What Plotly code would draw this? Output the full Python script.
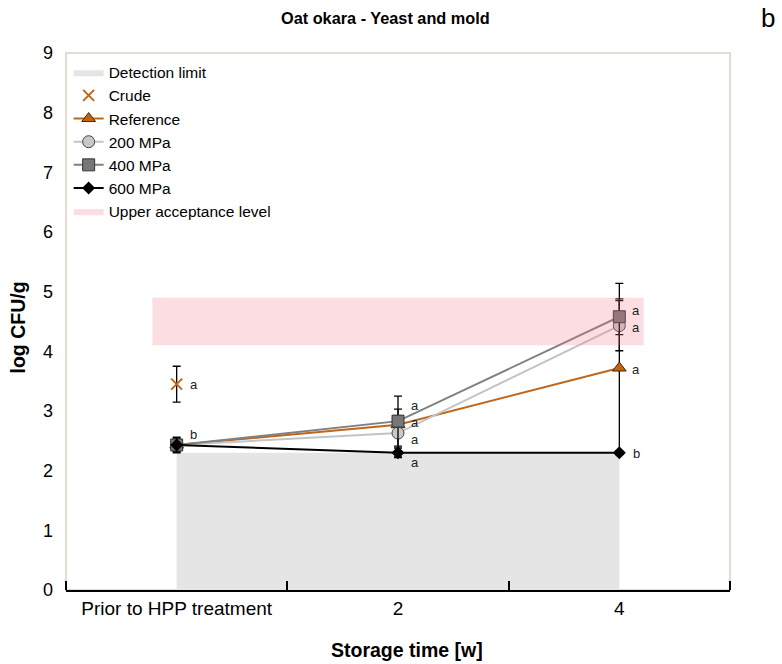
import plotly.graph_objects as go

# ---------------- data ----------------
categories = ["Prior to HPP treatment", "2", "4"]
x_pos = [0, 1, 2]

crude_y = [3.45]
crude_err = [0.30]

ref_y = [2.43, 2.77, 3.72]
ref_err = [0.10, 0.15, 1.42]

mpa200_y = [2.43, 2.63, 4.43]
mpa200_err = [0.10, 0.40, 0.42]

mpa400_y = [2.43, 2.83, 4.58]
mpa400_err = [0.10, 0.42, 0.30]

mpa600_y = [2.43, 2.30, 2.30]
mpa600_err = [0.13, 0.08, 0.03]

detection_x = [0, 2]
detection_level = 2.3

upper_x = [-0.11, 2.11]
upper_low = 4.1
upper_high = 4.9

# significance letters
letters_x = [0, 0, 1, 1, 1, 1, 2, 2, 2, 2]
letters_y = [2.61, 3.44, 3.09, 2.80, 2.52, 2.14, 4.68, 4.40, 3.70, 2.28]
letters_t = ["b", "a", "a", "a", "a", "a", "a", "a", "a", "b"]

y_ticks = [0, 1, 2, 3, 4, 5, 6, 7, 8, 9]

FONT = "Liberation Sans, Arial, sans-serif"
ORANGE = "#c0661a"

fig = go.Figure()

# detection limit area
fig.add_trace(go.Scatter(
    x=[detection_x[0], detection_x[1], detection_x[1], detection_x[0], detection_x[0]],
    y=[0, 0, detection_level, detection_level, 0],
    fill="toself", fillcolor="#e5e5e5", mode="lines",
    line=dict(width=0, color="#e5e5e5"), name="Detection limit", hoverinfo="skip"))

err_style = dict(type="data", visible=True, color="black", thickness=1.3, width=4)

fig.add_trace(go.Scatter(
    x=[x_pos[0]], y=crude_y, mode="markers", name="Crude",
    marker=dict(symbol="x-thin", size=11, line=dict(width=2, color=ORANGE), color=ORANGE),
    error_y=dict(array=crude_err, **err_style)))

fig.add_trace(go.Scatter(
    x=x_pos, y=ref_y, mode="lines+markers", name="Reference",
    line=dict(color=ORANGE, width=2),
    marker=dict(symbol="triangle-up", size=12, color="#c0650f", line=dict(width=1, color="#4a2a00")),
    error_y=dict(array=ref_err, **err_style)))

fig.add_trace(go.Scatter(
    x=x_pos, y=mpa200_y, mode="lines+markers", name="200 MPa",
    line=dict(color="#c4c4c4", width=2),
    marker=dict(symbol="circle", size=12, color="#c8c8c8", line=dict(width=1, color="#444444")),
    error_y=dict(array=mpa200_err, **err_style)))

fig.add_trace(go.Scatter(
    x=x_pos, y=mpa400_y, mode="lines+markers", name="400 MPa",
    line=dict(color="#808080", width=2),
    marker=dict(symbol="square", size=12, color="#777777", line=dict(width=1, color="#333333")),
    error_y=dict(array=mpa400_err, **err_style)))

fig.add_trace(go.Scatter(
    x=x_pos, y=mpa600_y, mode="lines+markers", name="600 MPa",
    line=dict(color="black", width=2),
    marker=dict(symbol="diamond", size=10, color="black"),
    error_y=dict(array=mpa600_err, **err_style)))

# upper acceptance band (drawn on top, translucent)
fig.add_trace(go.Scatter(
    x=[upper_x[0], upper_x[1], upper_x[1], upper_x[0], upper_x[0]],
    y=[upper_low, upper_low, upper_high, upper_high, upper_low],
    fill="toself", fillcolor="rgba(245,120,140,0.25)", mode="lines",
    line=dict(width=0, color="rgba(245,120,140,0.25)"),
    name="Upper acceptance level", hoverinfo="skip"))

for lx, ly, lt in zip(letters_x, letters_y, letters_t):
    fig.add_annotation(x=lx, y=ly, text=lt, showarrow=False, xanchor="center",
                       yanchor="middle", xshift=17,
                       font=dict(size=13, color="#222", family=FONT))

# titles
fig.add_annotation(text="<b>Oat okara - Yeast and mold</b>", xref="paper", yref="paper",
                   x=0.5, y=1, xshift=-13, yshift=35, xanchor="center", yanchor="middle",
                   showarrow=False, font=dict(size=16.3, color="black", family=FONT))
fig.add_annotation(text="b", xref="paper", yref="paper", x=1, y=1, xshift=38, yshift=35,
                   xanchor="center", yanchor="middle",
                   showarrow=False, font=dict(size=26, color="black", family=FONT))
fig.add_annotation(text="<b>Storage time [w]</b>", xref="paper", yref="paper",
                   x=0.5, y=0, xshift=9, yshift=-60, xanchor="center", yanchor="middle",
                   showarrow=False, font=dict(size=19.5, color="black", family=FONT))
fig.add_annotation(text="<b>log CFU/g</b>", xref="paper", yref="paper",
                   x=0, y=0.5, xshift=-49, yshift=-6, xanchor="center", yanchor="middle",
                   textangle=-90, showarrow=False,
                   font=dict(size=19.5, color="black", family=FONT))

# plot frame
fig.add_shape(type="rect", xref="paper", yref="paper", x0=0, y0=0, x1=1, y1=1,
              line=dict(color="#e2ddd0", width=2), layer="below")

fig.update_layout(
    width=782, height=664,
    margin=dict(l=66, r=52, t=53, b=74),
    paper_bgcolor="white", plot_bgcolor="white",
    font=dict(family=FONT, color="black"),
    showlegend=True,
    legend=dict(x=0.004, y=0.995, xanchor="left", yanchor="top",
                bgcolor="rgba(0,0,0,0)", font=dict(size=15.5, family=FONT),
                itemwidth=30, tracegroupgap=0),
    xaxis=dict(range=[-0.5, 2.5], tickvals=x_pos, ticktext=categories,
               ticks="", showgrid=False, zeroline=False,
               showline=True, linecolor="black", linewidth=1.5,
               tickfont=dict(size=19, family=FONT),
               minor=dict(tickvals=[-0.5, 0.5, 1.5, 2.5], ticks="inside",
                          ticklen=9, tickcolor="black", tickwidth=1.5, showgrid=False)),
    yaxis=dict(range=[0, 9], tickvals=y_ticks, ticks="", showgrid=False,
               zeroline=False, showline=False,
               tickfont=dict(size=18, family=FONT), ticklabelstandoff=12),
)

fig.write_html("out.html", config={"displayModeBar": False},
               post_script="document.body.style.margin='0px';document.body.style.overflow='hidden';")
